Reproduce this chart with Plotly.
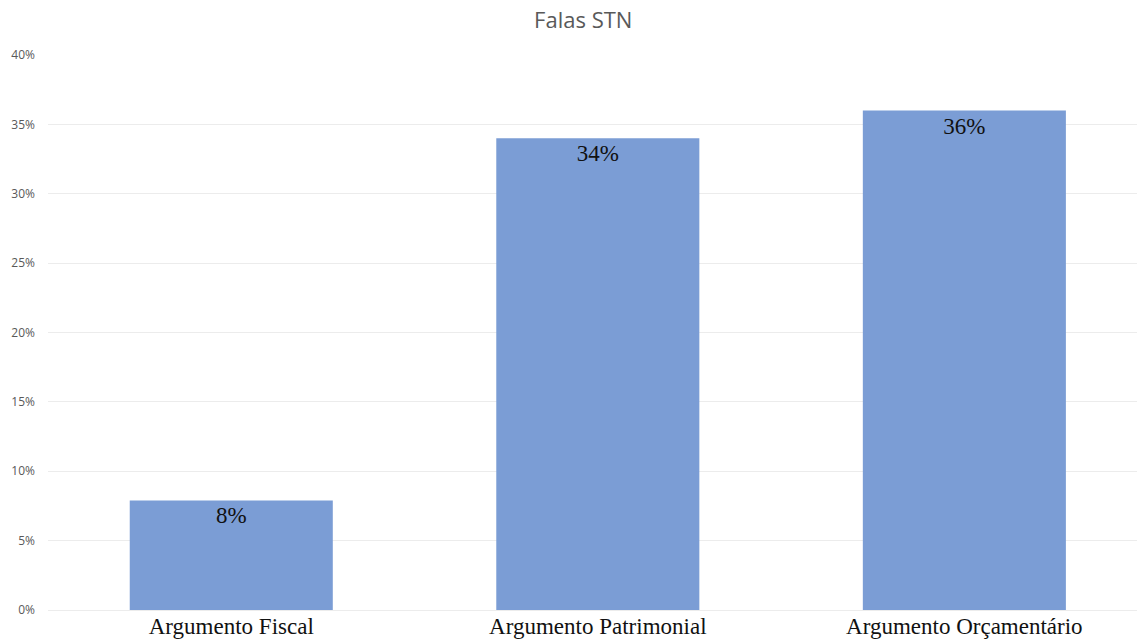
import plotly.graph_objects as go

categories = ["Argumento Fiscal", "Argumento Patrimonial", "Argumento Orçamentário"]
shares = [0.079, 0.34, 0.36]
y_ticks = [0, 0.05, 0.10, 0.15, 0.20, 0.25, 0.30, 0.35, 0.40]
y_tick_labels = ["0%", "5%", "10%", "15%", "20%", "25%", "30%", "35%", "40%"]

fig = go.Figure(
    go.Bar(
        x=categories,
        y=shares,
        marker=dict(color="#7b9dd5", line=dict(width=0)),
        texttemplate="%{y:.0%}",
        textposition="inside",
        insidetextanchor="end",
        textfont=dict(family="Liberation Serif", size=23, color="#111111"),
        cliponaxis=False,
    )
)

fig.update_layout(
    width=1137,
    height=640,
    margin=dict(l=48, r=0, t=55, b=30),
    paper_bgcolor="white",
    plot_bgcolor="white",
    bargap=0.446,
    showlegend=False,
    title=dict(
        text="Falas STN",
        x=0.513,
        xanchor="center",
        y=0.968,
        yanchor="middle",
        font=dict(family="Open Sans", size=22, color="#595959"),
    ),
    xaxis=dict(
        range=[-0.5, 2.471],
        showgrid=False,
        showline=False,
        ticks="",
        tickfont=dict(family="Liberation Serif", size=23, color="#111111"),
        ticklabelstandoff=0,
    ),
    yaxis=dict(
        range=[0, 0.40],
        tickvals=y_ticks,
        ticktext=y_tick_labels,
        showgrid=True,
        gridcolor="#ececec",
        gridwidth=1,
        zeroline=True,
        zerolinecolor="#ececec",
        zerolinewidth=1,
        showline=False,
        ticks="",
        ticklabelstandoff=12,
        tickfont=dict(family="Open Sans", size=12, color="#595959"),
    ),
)

fig.write_html("out.html")
